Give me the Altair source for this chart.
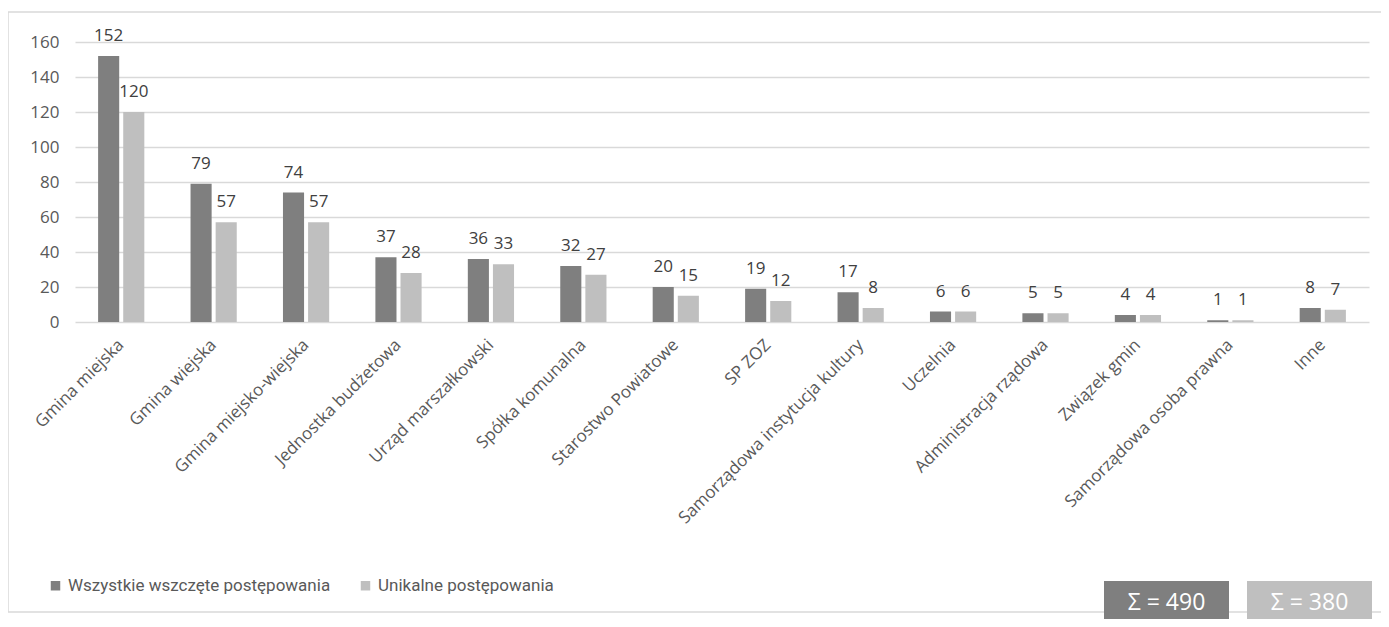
import altair as alt
import pandas as pd

categories = [
    "Gmina miejska", "Gmina wiejska", "Gmina miejsko-wiejska", "Jednostka budżetowa",
    "Urząd marszałkowski", "Spółka komunalna", "Starostwo Powiatowe", "SP ZOZ",
    "Samorządowa instytucja kultury", "Uczelnia", "Administracja rządowa",
    "Związek gmin", "Samorządowa osoba prawna", "Inne",
]
all_proc = [152, 79, 74, 37, 36, 32, 20, 19, 17, 6, 5, 4, 1, 8]
unique_proc = [120, 57, 57, 28, 33, 27, 15, 12, 8, 6, 5, 4, 1, 7]
series_names = ["Wszystkie wszczęte postępowania", "Unikalne postępowania"]
colors = ["#7f7f7f", "#bfbfbf"]

rows = []
for c, a, u in zip(categories, all_proc, unique_proc):
    rows.append({"cat": c, "series": series_names[0], "value": a})
    rows.append({"cat": c, "series": series_names[1], "value": u})
df = pd.DataFrame(rows)

W, H = 1294, 280
FONT = "Open Sans"

x_enc = alt.X(
    "cat:N", sort=categories, title=None,
    scale=alt.Scale(paddingInner=0.5, paddingOuter=0.25),
    axis=alt.Axis(labelAngle=-45, labelAlign="right", labelBaseline="middle",
                  labelPadding=20, labelFontSize=17, labelColor="#595959",
                  domain=False, ticks=False, labelFont=FONT, labelLimit=400),
)
xo_enc = alt.XOffset("series:N", sort=series_names, scale=alt.Scale(paddingInner=0.16))
y_enc = alt.Y(
    "value:Q", title=None, scale=alt.Scale(domain=[0, 160], nice=False),
    axis=alt.Axis(values=list(range(0, 161, 20)), domain=False, ticks=False,
                  gridColor="#d9d9d9", gridWidth=1.3, labelFontSize=17,
                  labelColor="#595959", labelPadding=16, labelFont=FONT),
)

base = alt.Chart(df)
bars = base.mark_bar().encode(
    x=x_enc, xOffset=xo_enc, y=y_enc,
    color=alt.Color(
        "series:N", sort=series_names,
        scale=alt.Scale(domain=series_names, range=colors),
        legend=alt.Legend(orient="none", legendX=-28, legendY=535, direction="horizontal",
                          title=None, symbolType="square", symbolSize=90,
                          symbolStrokeWidth=0, labelFontSize=17, labelColor="#595959",
                          labelFont="Roboto", columnPadding=26, labelOffset=4,
                          labelLimit=400),
    ),
)
labels = base.mark_text(baseline="alphabetic", dy=-15, fontSize=17, color="#404040", font=FONT).encode(
    x=x_enc, xOffset=xo_enc, y=y_enc, text="value:Q",
)

one = alt.Chart(pd.DataFrame({"k": [0]}))
border = one.mark_rect(fillOpacity=0, stroke="#d9d9d9", strokeWidth=1.5).encode(
    x=alt.value(-67), x2=alt.value(1340), y=alt.value(-30), y2=alt.value(570)
)
box1 = one.mark_rect(color=colors[0]).encode(
    x=alt.value(1029), x2=alt.value(1154), y=alt.value(539), y2=alt.value(600)
)
box2 = one.mark_rect(color=colors[1]).encode(
    x=alt.value(1172), x2=alt.value(1297), y=alt.value(539), y2=alt.value(600)
)
txt1 = one.mark_text(text=f"Σ = {sum(all_proc)}", color="white", fontSize=23, font=FONT,
                     align="center", baseline="middle").encode(
    x=alt.value(1091.5), y=alt.value(561)
)
txt2 = one.mark_text(text=f"Σ = {sum(unique_proc)}", color="white", fontSize=23, font=FONT,
                     align="center", baseline="middle").encode(
    x=alt.value(1234.5), y=alt.value(561)
)

chart = alt.layer(border, bars, labels, box1, box2, txt1, txt2).properties(
    width=W, height=H,
    autosize=alt.AutoSizeParams(type="none"),
    padding={"left": 67, "top": 34, "right": 12, "bottom": 297},
).configure_view(stroke=None)

chart.save("out.html", embed_options={"renderer": "svg", "actions": False})
